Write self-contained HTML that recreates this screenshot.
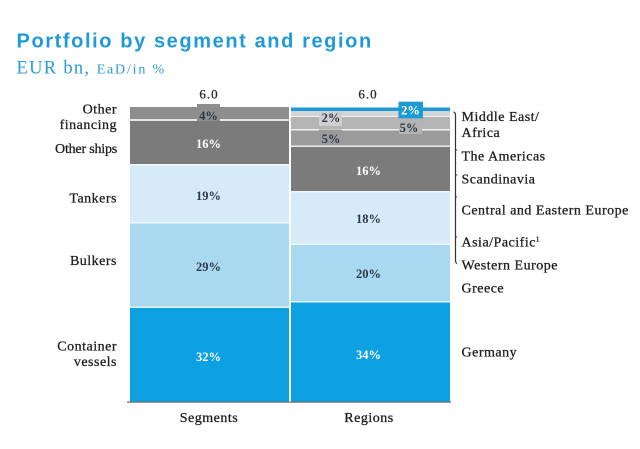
<!DOCTYPE html>
<html>
<head>
<meta charset="utf-8">
<style>
  html, body { margin: 0; padding: 0; background: #ffffff; }
  body { width: 640px; height: 449px; overflow: hidden; }
  svg { display: block; }
  .lbl { font-family: "Liberation Serif", serif; font-size: 14px; fill: #1f1f1f; stroke: #1f1f1f; stroke-width: 0.3px; letter-spacing: 0.5px; }
  .num { font-family: "Liberation Serif", serif; font-size: 12.5px; font-weight: bold; text-anchor: middle; }
  .dk { fill: #2c3846; }
  .wh { fill: #ffffff; }
</style>
</head>
<body>
<svg width="640" height="449" viewBox="0 0 640 449" xmlns="http://www.w3.org/2000/svg">
  <rect x="0" y="0" width="640" height="449" fill="#ffffff"/>

  <!-- Title -->
  <text x="16.5" y="47.5" font-family="Liberation Sans, sans-serif" font-weight="bold" font-size="20" letter-spacing="1.6" fill="#1e9ad6">Portfolio by segment and region</text>
  <text x="16.5" y="73.3" font-family="Liberation Serif, serif" font-size="18.5" letter-spacing="1.3" fill="#2b9bd3">EUR bn,</text>
  <text x="96.7" y="73.3" font-family="Liberation Serif, serif" font-size="14" letter-spacing="1.8" fill="#2b9bd3">EaD/in %</text>

  <!-- Segments bar -->
  <rect x="130" y="107" width="159" height="12" fill="#8e8e8e"/>
  <rect x="130" y="119" width="159" height="2" fill="#e6e6e6"/>
  <rect x="197" y="104" width="23" height="18" fill="#8e8e8e"/>
  <rect x="130" y="121" width="159" height="43" fill="#7b7b7b"/>
  <rect x="130" y="164" width="159" height="1.5" fill="#eef6fb"/>
  <rect x="130" y="165.5" width="159" height="56.5" fill="#d7eaf7"/>
  <rect x="130" y="222" width="159" height="1.5" fill="#f0f8fd"/>
  <rect x="130" y="223.5" width="159" height="83" fill="#a9d8f1"/>
  <rect x="130" y="306.5" width="159" height="1.5" fill="#e3f4fc"/>
  <rect x="130" y="308" width="159" height="93.5" fill="#0ea1e2"/>

  <!-- Regions bar -->
  <rect x="291" y="107.5" width="159" height="3.5" fill="#1d9ad5"/>
  <rect x="291" y="111" width="159" height="5" fill="#d5d5d5"/>
  <rect x="291" y="116" width="159" height="1" fill="#f2f2f2"/>
  <rect x="291" y="117" width="159" height="12" fill="#b4b4b4"/>
  <rect x="291" y="129" width="159" height="1.5" fill="#f0f0f0"/>
  <rect x="291" y="130.5" width="159" height="15" fill="#9b9b9b"/>
  <rect x="291" y="145.5" width="159" height="1.5" fill="#ececec"/>
  <rect x="291" y="147" width="159" height="44" fill="#7b7b7b"/>
  <rect x="291" y="191" width="159" height="1.5" fill="#eef6fb"/>
  <rect x="291" y="192.5" width="159" height="51" fill="#d7eaf7"/>
  <rect x="291" y="243.5" width="159" height="1.5" fill="#f0f8fd"/>
  <rect x="291" y="245" width="159" height="56" fill="#a9d8f1"/>
  <rect x="291" y="301" width="159" height="1.5" fill="#e3f4fc"/>
  <rect x="291" y="302.5" width="159" height="99" fill="#0ea1e2"/>

  <!-- label boxes in regions -->
  <rect x="319" y="111" width="23" height="15" fill="#cfcfcf"/>
  <rect x="319" y="129.5" width="23" height="16" fill="#9b9b9b"/>
  <rect x="399" y="121" width="23" height="13" fill="#b4b4b4"/>
  <rect x="398.5" y="101.7" width="24.5" height="16.6" fill="#1d9ad5"/>

  <!-- axis -->
  <rect x="127" y="401.5" width="324" height="1.2" fill="#6a6a6a"/>

  <!-- bracket -->
  <path d="M453.5 112 Q455.5 112.5 455.5 115 L455.5 260 Q455.5 263 457 263.5" stroke="#333" stroke-width="1.2" fill="none"/>
  <path d="M455.5 150 l1.8 0 M455.5 175 l1.8 0 M455.5 197 l1.5 0 M455.5 237 l1.5 0" stroke="#333" stroke-width="1" fill="none"/>

  <!-- top values -->
  <text x="209" y="98.5" font-family="Liberation Serif, serif" font-size="13" letter-spacing="1" text-anchor="middle" fill="#2a2a2a" stroke="#2a2a2a" stroke-width="0.3">6.0</text>
  <text x="368" y="98.5" font-family="Liberation Serif, serif" font-size="13" letter-spacing="1" text-anchor="middle" fill="#2a2a2a" stroke="#2a2a2a" stroke-width="0.3">6.0</text>

  <!-- segment numbers -->
  <text class="num dk" x="208.5" y="120">4%</text>
  <text class="num wh" x="208.5" y="148">16%</text>
  <text class="num dk" x="208.5" y="200">19%</text>
  <text class="num dk" x="208.5" y="271">29%</text>
  <text class="num wh" x="208.5" y="361">32%</text>

  <!-- region numbers -->
  <text class="num dk" x="331" y="122">2%</text>
  <text class="num dk" x="331" y="143">5%</text>
  <text class="num dk" x="409" y="132">5%</text>
  <text class="num wh" x="410.5" y="114.5">2%</text>
  <text class="num wh" x="368.5" y="175">16%</text>
  <text class="num dk" x="368.5" y="223">18%</text>
  <text class="num dk" x="368.5" y="278">20%</text>
  <text class="num wh" x="368.5" y="359">34%</text>

  <!-- left labels -->
  <g class="lbl" text-anchor="end">
    <text x="117" y="113.5">Other</text>
    <text x="117" y="128.8">financing</text>
    <text x="117" y="152.8" letter-spacing="-0.2">Other ships</text>
    <text x="117" y="202.7">Tankers</text>
    <text x="117" y="265">Bulkers</text>
    <text x="117" y="350.7">Container</text>
    <text x="117" y="366">vessels</text>
  </g>

  <!-- right labels -->
  <g class="lbl">
    <text x="461.5" y="121">Middle East/</text>
    <text x="461.5" y="137">Africa</text>
    <text x="461.5" y="160.7">The Americas</text>
    <text x="461.5" y="183.3">Scandinavia</text>
    <text x="461.5" y="214.3">Central and Eastern Europe</text>
    <text x="461.5" y="246.7">Asia/Pacific<tspan font-size="7" dy="-5">1</tspan></text>
    <text x="461.5" y="269.3">Western Europe</text>
    <text x="461.5" y="292.3">Greece</text>
    <text x="461.5" y="356.7">Germany</text>
  </g>

  <!-- axis labels -->
  <text class="lbl" x="209" y="422" text-anchor="middle">Segments</text>
  <text class="lbl" x="369" y="422" text-anchor="middle">Regions</text>
</svg>
</body>
</html>
